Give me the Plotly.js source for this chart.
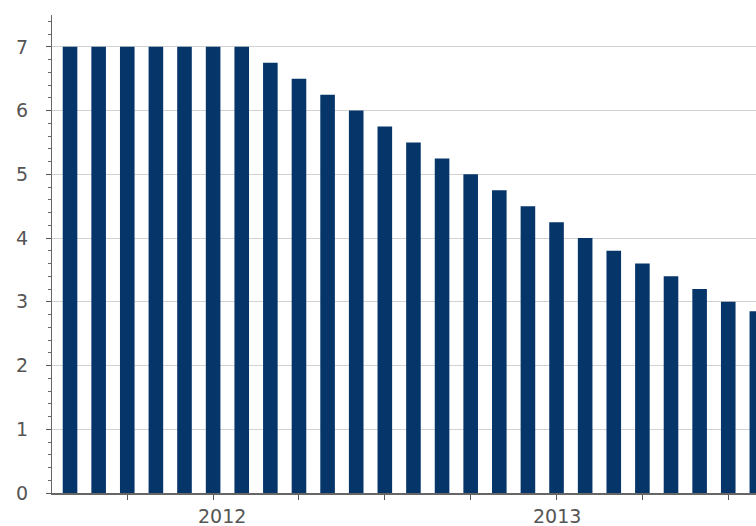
<!DOCTYPE html>
<html>
<head>
<meta charset="utf-8">
<script src="https://cdn.plot.ly/plotly-3.0.1.min.js"></script>
<style>html,body{margin:0;padding:0;background:#fff;}#chart{width:756px;height:526px;}</style>
</head>
<body>
<div id="chart"></div>
<script>
// Monthly policy rate, per cent (end of month)
var months = ['Jan 2012','Feb 2012','Mar 2012','Apr 2012','May 2012','Jun 2012','Jul 2012','Aug 2012','Sep 2012','Oct 2012','Nov 2012','Dec 2012',
              'Jan 2013','Feb 2013','Mar 2013','Apr 2013','May 2013','Jun 2013','Jul 2013','Aug 2013','Sep 2013','Oct 2013','Nov 2013','Dec 2013','Jan 2014'];
var rate = [7,7,7,7,7,7,7,6.75,6.5,6.25,6.0,5.75,5.5,5.25,5.0,4.75,4.5,4.25,4.0,3.8,3.6,3.4,3.2,3.0,2.85];
var quarterTicks = ['Mar 2012','Jun 2012','Sep 2012','Dec 2012','Mar 2013','Jun 2013','Sep 2013','Dec 2013'];
var yearLabels = ['2012','2013'];
var yearLabelPos = [5.31, 17.03];
var yTicks = [0,1,2,3,4,5,6,7];

var font = {family: 'DejaVu Sans, Verdana, sans-serif', size: 19, color: '#555'};

var data = [{
  type: 'bar',
  x: months,
  y: rate,
  marker: {color: '#06356a', line: {width: 0}},
  hoverinfo: 'x+y'
}];

var xr = [-0.63, 23.97];

var annotations = yearLabels.map(function(t, i) {
  return {
    text: t, x: yearLabelPos[i], xref: 'x', y: 0, yref: 'y',
    xanchor: 'center', yanchor: 'top', yshift: -10,
    showarrow: false, font: font
  };
});

var layout = {
  width: 756, height: 526,
  margin: {l: 52, r: 0, t: 15, b: 33, pad: 0},
  paper_bgcolor: '#fff', plot_bgcolor: '#fff',
  showlegend: false,
  bargap: 0.49,
  font: font,
  annotations: annotations,
  xaxis: {
    type: 'category',
    range: xr,
    tickmode: 'array',
    tickvals: quarterTicks,
    ticktext: quarterTicks.map(function(){return '';}),
    ticks: 'outside', ticklen: 5, tickwidth: 1, tickcolor: '#555',
    showline: true, linecolor: '#666', linewidth: 2,
    showgrid: false, zeroline: false,
    fixedrange: true
  },
  yaxis: {
    range: [0, 7.5],
    tickmode: 'array',
    tickvals: yTicks,
    ticks: 'outside', ticklen: 5, tickwidth: 1, tickcolor: '#555',
    minor: {dtick: 0.2, tick0: 0, ticks: 'outside', ticklen: 3, tickwidth: 1, tickcolor: '#666', showgrid: false},
    showline: true, linecolor: '#666', linewidth: 1,
    showgrid: true, gridcolor: '#d2d2d2', gridwidth: 1,
    zeroline: false,
    ticklabelstandoff: 14,
    tickfont: font
  }
};

Plotly.newPlot('chart', data, layout, {displayModeBar: false, staticPlot: true});
</script>
</body>
</html>
